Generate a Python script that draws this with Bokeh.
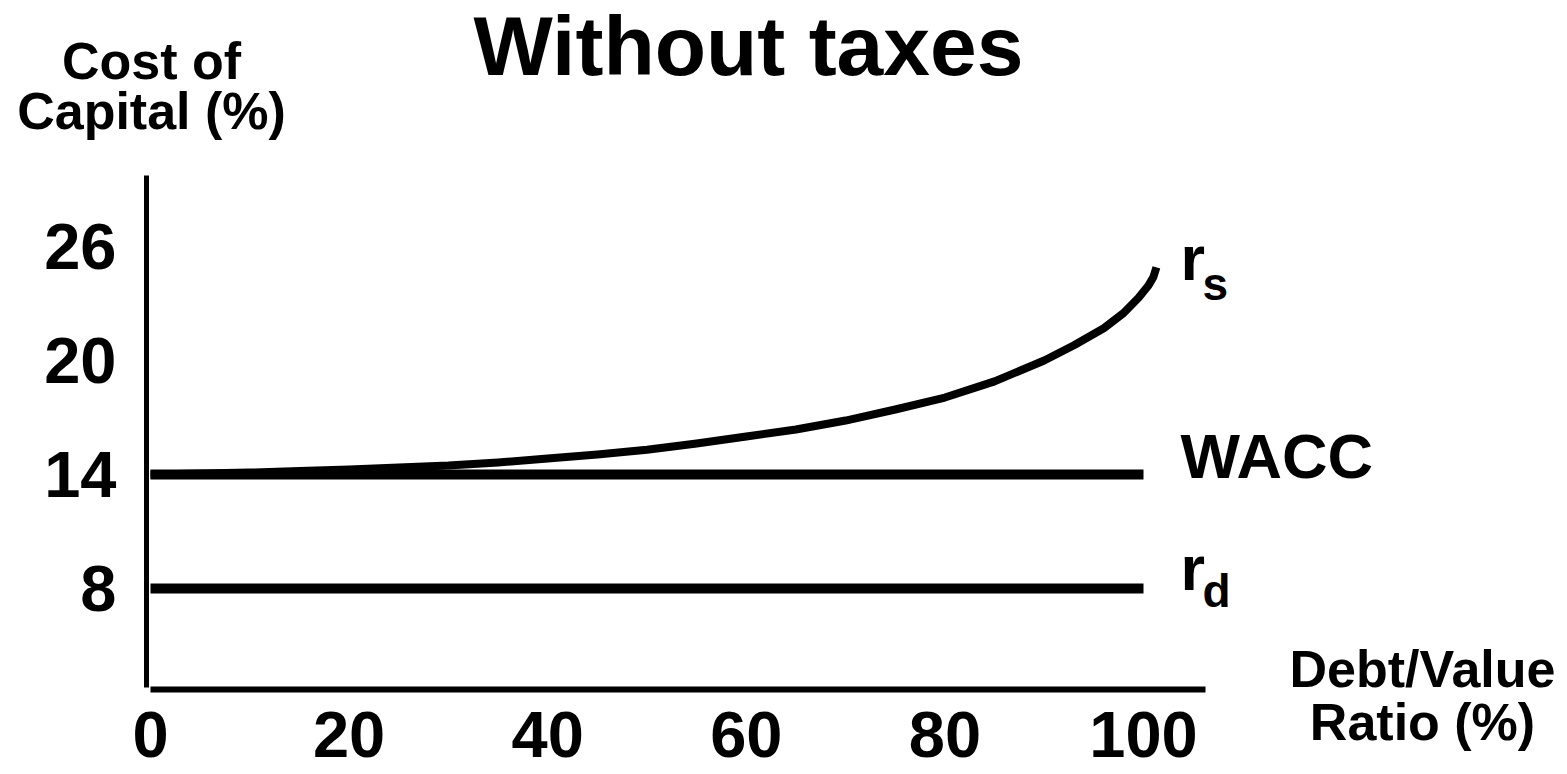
from bokeh.plotting import figure
from bokeh.models import FixedTicker, Range1d, Label
from bokeh.embed import file_html
from bokeh.resources import INLINE

# ---- data -------------------------------------------------------------
debt_ratio_rs = [0, 5, 10, 15, 20, 25, 30, 35, 40, 45, 50, 55, 60, 65, 70, 75, 80, 85,
                 90, 93, 96, 98, 99.5, 100.5, 101, 101.3]
cost_equity = [14.0, 14.05, 14.1, 14.18, 14.26, 14.37, 14.47, 14.63, 14.84, 15.05, 15.3,
               15.63, 16.0, 16.37, 16.84, 17.42, 18.05, 18.9, 20.0, 20.8, 21.7, 22.5,
               23.3, 23.95, 24.4, 24.9]

debt_ratio_flat = [0, 100]
wacc = [14, 14]
cost_debt = [8, 8]

x_ticks = [0, 20, 40, 60, 80, 100]
y_ticks = [8, 14, 20, 26]

# ---- layout -----------------------------------------------------------
W, H = 1567, 774
PX_PER_X = 9.93        # pixels per percentage point of debt/value
PX_PER_Y = 19.0        # pixels per percentage point of cost of capital
X_ORIGIN_PX = 150      # where debt/value = 0 sits
Y14_PX = 474           # where a 14 % cost sits (from the top)
FONT = "Liberation Sans"
BASELINE_SHIFT = 0.39  # label anchor sits this many ems above the glyph baseline


def dx(px):
    return (px - X_ORIGIN_PX) / PX_PER_X


def dy(py):
    return 14 + (Y14_PX - py) / PX_PER_Y


p = figure(width=W, height=H, output_backend="svg", toolbar_location=None,
           x_range=Range1d(dx(0), dx(W)), y_range=Range1d(dy(H), dy(0)),
           min_border=0, min_border_left=0, min_border_right=0,
           min_border_top=0, min_border_bottom=0)
p.title = None
p.outline_line_color = None
p.grid.visible = False
p.background_fill_color = "white"
p.border_fill_color = "white"

xa, ya = p.xaxis[0], p.yaxis[0]
for ax in (xa, ya):
    ax.major_tick_line_color = None
    ax.minor_tick_line_color = None
    ax.major_tick_out = 0
    ax.major_tick_in = 0
    ax.axis_line_color = "black"
    ax.major_label_text_font = FONT
    ax.major_label_text_font_style = "bold"
    ax.major_label_text_font_size = "65px"
    ax.major_label_text_color = "black"

# axes sit at fixed data positions, with their lines trimmed by bounds
xa.ticker = FixedTicker(ticks=x_ticks)
xa.fixed_location = dy(689)
xa.bounds = (0, dx(1205))
xa.axis_line_width = 6
xa.major_label_standoff = 22

ya.ticker = FixedTicker(ticks=y_ticks)
ya.fixed_location = dx(146)
ya.bounds = (dy(687), dy(175))
ya.axis_line_width = 5
ya.major_label_standoff = 30
ya.major_label_text_baseline = "top"

# ---- series -----------------------------------------------------------
p.line(debt_ratio_flat, wacc, line_color="black", line_width=10)
p.line(debt_ratio_flat, cost_debt, line_color="black", line_width=10)
p.line(debt_ratio_rs, cost_equity, line_color="black", line_width=8,
       line_join="round", line_cap="butt")


def add_text(text, px, baseline_py, size, align="left"):
    py = baseline_py - BASELINE_SHIFT * size
    p.add_layout(Label(x=dx(px), y=dy(py), text=text, text_font=FONT,
                       text_font_style="bold", text_font_size=f"{size}px",
                       text_align=align, text_baseline="alphabetic",
                       text_color="black"))


add_text("Without taxes", 748, 78, 84, "center")
add_text("Cost of", 151, 81, 52, "center")
add_text("Capital (%)", 151, 131, 52, "center")
add_text("Debt/Value", 1422, 689, 52, "center")
add_text("Ratio (%)", 1422, 742, 52, "center")

add_text("WACC", 1180, 480, 63)
add_text("r", 1180, 282, 63)
add_text("s", 1202, 301, 46)
add_text("r", 1180, 592, 63)
add_text("d", 1202, 608, 46)

open("out.html", "w").write(file_html(p, INLINE))
